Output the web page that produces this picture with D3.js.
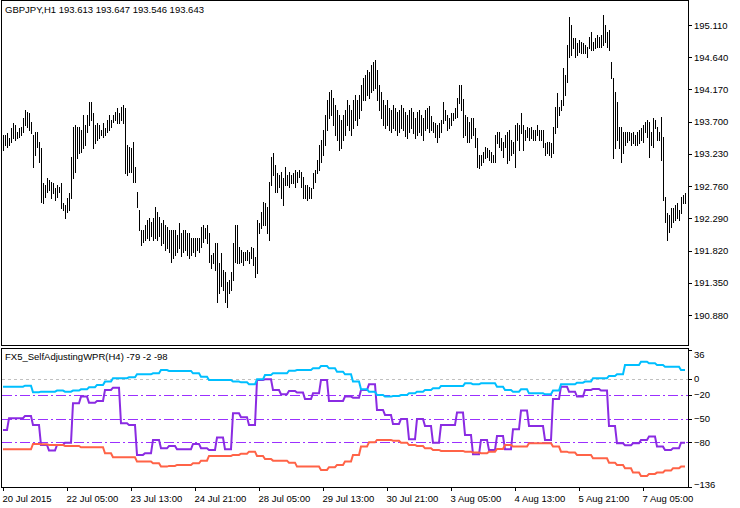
<!DOCTYPE html>
<html><head><meta charset="utf-8">
<script src="https://cdn.jsdelivr.net/npm/d3@7"></script>
<style>
html,body{margin:0;padding:0;background:#fff;}
svg{display:block;}
text{font-family:"Liberation Sans",Arial,sans-serif;font-size:9.5px;fill:#000;}
</style>
</head><body><svg id="c" width="740" height="508"></svg>
<script>
// ---- price bars (H1), high / low ----
const highs = [193.50,193.50,193.53,193.46,193.61,193.68,193.65,193.55,193.61,193.62,
193.75,193.87,193.84,193.83,193.69,193.50,193.55,193.55,193.40,193.31,
192.80,192.77,192.88,192.85,192.82,192.80,192.73,192.77,192.74,192.80,
192.51,192.48,192.58,192.66,193.18,193.62,193.65,193.62,193.62,193.58,
193.80,193.65,193.80,193.99,193.99,193.83,193.65,193.68,193.65,193.58,
193.68,193.61,193.72,193.80,193.72,193.80,193.84,193.90,193.83,193.91,
193.94,193.90,193.36,193.33,193.31,193.40,193.04,192.67,192.41,192.12,
192.12,192.19,192.26,192.29,192.23,192.29,192.45,192.38,192.31,192.22,
192.26,192.19,192.16,192.12,192.12,192.12,192.12,192.04,192.22,192.07,
192.12,192.12,192.07,192.07,192.01,192.00,192.00,192.01,192.00,192.16,
192.19,192.15,192.19,192.07,191.75,191.78,191.93,191.93,191.64,191.78,
191.53,191.50,191.36,191.39,191.50,191.93,192.19,192.19,191.87,191.83,
191.80,191.80,191.83,191.80,191.87,191.85,191.72,192.26,192.22,192.38,
192.53,192.51,192.45,192.82,193.18,193.24,193.07,192.95,192.92,192.96,
192.88,193.04,192.92,192.96,192.92,192.95,192.99,192.96,192.99,192.96,
192.89,192.77,192.77,192.74,192.73,192.95,192.99,193.14,193.36,193.43,
193.58,193.80,194.02,194.13,194.16,194.04,193.94,193.87,193.80,193.72,
193.80,193.87,194.02,193.94,193.87,194.02,194.09,194.02,194.09,194.23,
194.34,194.38,194.45,194.42,194.53,194.57,194.60,194.45,194.23,194.13,
194.02,193.94,194.02,193.90,193.87,193.94,193.90,193.84,193.87,193.94,
193.90,193.84,193.80,193.87,193.90,193.84,193.75,193.84,193.87,193.80,
193.75,193.87,193.90,193.93,193.78,193.69,193.68,193.65,193.68,193.72,
193.99,193.87,193.80,193.75,193.83,193.83,193.90,194.04,194.23,194.23,
194.03,193.80,193.77,193.69,193.75,193.75,193.61,193.46,193.21,193.21,
193.26,193.33,193.31,193.28,193.26,193.21,193.50,193.55,193.55,193.46,
193.40,193.50,193.55,193.58,193.43,193.40,193.65,193.68,193.65,193.83,
193.65,193.58,193.62,193.61,193.62,193.58,193.58,193.65,193.58,193.58,
193.58,193.39,193.40,193.40,193.39,193.62,193.91,194.12,193.91,194.02,
194.48,194.38,194.82,195.23,195.11,194.92,194.92,194.85,194.89,194.86,
194.85,194.82,194.79,194.93,195.01,194.86,194.92,194.96,194.93,194.96,
195.26,195.11,195.01,195.04,194.57,194.34,194.13,193.99,193.62,193.62,
193.55,193.55,193.55,193.55,193.53,193.55,193.50,193.55,193.58,193.61,
193.65,193.69,193.72,193.69,193.55,193.75,193.72,193.62,193.55,193.77,
193.47,192.60,192.37,192.34,192.44,192.44,192.48,192.51,192.41,192.60,
192.63,192.66];
const lows = [193.28,193.36,193.33,193.36,193.40,193.46,193.43,193.46,193.47,193.50,
193.55,193.65,193.62,193.58,193.53,193.04,193.21,193.33,193.11,192.53,
192.51,192.60,192.67,192.70,192.58,192.66,192.56,192.60,192.67,192.44,
192.41,192.29,192.38,192.41,192.58,192.88,192.96,193.17,193.24,193.26,
193.31,193.36,193.55,193.65,193.72,193.31,193.39,193.43,193.46,193.50,
193.47,193.50,193.55,193.58,193.62,193.69,193.72,193.68,193.68,193.72,
193.68,192.95,192.92,192.96,192.96,192.82,192.82,192.45,192.12,191.90,
191.94,191.97,192.00,191.97,192.03,191.97,192.00,191.97,192.03,191.90,
191.93,191.83,191.85,191.80,191.65,191.71,191.75,191.80,191.85,191.74,
191.80,191.83,191.75,191.71,191.75,191.80,191.74,191.83,191.80,191.87,
191.94,192.00,191.93,191.65,191.56,191.64,191.53,191.07,191.20,191.31,
191.24,191.07,190.99,191.20,191.24,191.39,191.65,191.64,191.64,191.65,
191.61,191.68,191.68,191.64,191.71,191.61,191.43,191.49,192.07,192.15,
192.19,192.19,192.07,191.97,192.77,192.92,192.67,192.67,192.74,192.58,
192.48,192.77,192.77,192.74,192.80,192.80,192.74,192.82,192.89,192.74,
192.58,192.58,192.56,192.58,192.58,192.73,192.82,192.95,192.99,193.11,
193.21,193.36,193.58,193.75,193.80,193.65,193.50,193.43,193.28,193.31,
193.43,193.50,193.65,193.58,193.50,193.61,193.72,193.65,193.75,193.87,
194.02,194.02,194.09,194.04,194.13,194.16,194.19,194.02,193.87,193.75,
193.65,193.61,193.65,193.58,193.55,193.61,193.58,193.50,193.55,193.61,
193.58,193.49,193.46,193.55,193.61,193.53,193.46,193.50,193.55,193.50,
193.43,193.58,193.61,193.55,193.58,193.55,193.47,193.40,193.47,193.55,
193.68,193.72,193.58,193.61,193.65,193.72,193.75,193.77,193.97,193.87,
193.47,193.50,193.40,193.40,193.46,193.50,193.33,193.04,193.02,193.07,
193.11,193.17,193.18,193.14,193.11,193.11,193.11,193.39,193.33,193.28,
193.18,193.33,193.10,193.14,193.21,193.24,193.04,193.43,193.28,193.53,
193.28,193.43,193.47,193.43,193.46,193.43,193.43,193.50,193.43,193.43,
193.33,193.21,193.24,193.21,193.18,193.24,193.53,193.62,193.80,193.87,
193.94,194.09,194.28,194.64,194.67,194.77,194.64,194.67,194.72,194.70,
194.70,194.70,194.64,194.77,194.75,194.75,194.77,194.79,194.79,194.79,
194.82,194.86,194.79,194.75,194.34,193.17,193.31,193.43,193.31,193.11,
193.24,193.36,193.40,193.43,193.36,193.39,193.36,193.36,193.39,193.43,
193.40,193.55,193.47,193.18,193.36,193.33,193.61,193.43,193.43,193.14,
192.56,192.23,191.97,192.09,192.16,192.23,192.26,192.29,192.26,192.37,
192.51,192.51];

// ---- indicator (H4 values, shown on H1) ----
const wprH4 = [-64.4,-49.7,-49.7,-46.8,-58.1,-83.2,-90.3,-83.2,-80.3,-30.9,
-22.5,-30.1,-28,-14.2,-11.3,-56,-58.1,-95.7,-93.7,-76.9,
-87.4,-84.5,-88.6,-88.6,-81.9,-87.4,-89.5,-74,-88.6,-43.5,
-48.5,-58.1,-1.6,-0.8,-14.2,-19.6,-15.4,-17.5,-25.5,-18.4,
-1.6,-28,-28,-22.5,-23.8,-14.2,-7.1,-39.3,-45.6,-56.8,
-50.6,-76.1,-50.6,-59.4,-80.3,-58.1,-58.1,-42.6,-70.6,-94.9,
-76.9,-89.5,-71.9,-88.6,-63.5,-40.1,-59.4,-59.4,-76.9,-25.5,
-10,-16.3,-22.5,-14.2,-12.9,-15,-59.4,-81.1,-83.6,-81.1,
-76.9,-72.7,-85.3,-89.5,-87.4,-80.3];
const upperH4 = [-10,-10,-10,-8.8,-17.1,-16.3,-16.3,-15,-16.3,-15,
-13.4,-10.8,-7.9,-3.7,0.5,0.5,1.7,5.5,5.5,6.7,
10.9,9.7,9.7,9.7,6.7,2.5,-1.6,-1.6,-1.6,-3.7,
-4.6,-7.1,-0.8,4.6,6.7,6.7,10.1,10.9,10.9,13,
15.9,13,8.8,5.5,-3.7,-13.4,-16.3,-20.5,-22.5,-21.7,
-20.5,-18.4,-16.3,-14.2,-12.1,-9.2,-9.2,-9.2,-5.8,-7.1,
-5.8,-5.8,-10,-14.2,-16.3,-13.4,-18.4,-18.4,-19.6,-15,
-7.1,-7.1,-5,-3.7,0.5,0.5,3.4,5.5,17.2,17.2,
21.4,19.3,17.2,15.1,15.1,10.9];
const lowerH4 = [-88.6,-88.6,-88.6,-88.6,-81.9,-82.4,-83.2,-83.2,-84.5,-84.5,
-86.1,-86.1,-86.1,-93.7,-98.7,-98.7,-98.7,-104.1,-104.1,-106.2,
-110.4,-109.5,-108.3,-108.3,-106.2,-102.9,-97,-97,-97,-95.7,
-94.1,-91.6,-97,-100.8,-102.9,-102.9,-105.4,-110.4,-110.4,-110.4,
-114.6,-111.2,-108.3,-104.1,-95.7,-85.3,-79.9,-76.9,-76.9,-77.8,
-80.3,-83.2,-84.5,-87.4,-89.5,-90.7,-90.7,-90.7,-91.6,-92.8,
-93.7,-91.6,-88.2,-83.2,-85.3,-85.3,-81.1,-81.1,-81.1,-85.3,
-91.6,-92.8,-95.7,-95.7,-99.9,-99.9,-105.4,-108.3,-112.5,-117.9,
-122.1,-119.6,-117.9,-115.4,-112.5,-110.4];

// ---- axis labels ----
const priceTicks = [195.110,194.640,194.170,193.700,193.230,192.760,192.290,191.820,191.350,190.880];
const indTicks = [36,0,-20,-50,-80,-136];
const levels = [-20,-50,-80];
const timeLabels = ["20 Jul 2015","22 Jul 05:00","23 Jul 13:00","24 Jul 21:00","28 Jul 05:00","29 Jul 13:00","30 Jul 21:00","3 Aug 05:00","4 Aug 13:00","5 Aug 21:00","7 Aug 05:00"];
const titleText = "GBPJPY,H1  193.613 193.647 193.546 193.643";
const indText = "FX5_SelfAdjustingWPR(H4) -79 -2 -98";

const svg = d3.select('#c');
const N = highs.length;
const L = 1, R = 688, pTop = 0, pBot = 345, iTop = 348, iBot = 487;

const x = d3.scaleLinear().domain([0, N - 1]).range([3, 685]);
const yP = d3.scaleLinear().domain([190.88, 195.11]).range([315, 25]);
const yI = d3.scaleLinear().domain([-136, 36]).range([487, 350]);

// frames
svg.append('rect').attr('x', L + 0.5).attr('y', pTop + 0.5).attr('width', R - L).attr('height', pBot - pTop)
  .attr('fill', 'none').attr('stroke', '#000').attr('shape-rendering', 'crispEdges');
svg.append('rect').attr('x', L + 0.5).attr('y', iTop + 0.5).attr('width', R - L).attr('height', iBot - iTop)
  .attr('fill', 'none').attr('stroke', '#000').attr('shape-rendering', 'crispEdges');

// price bars
svg.append('g').selectAll('line').data(highs).join('line')
  .attr('x1', (d, i) => Math.round(x(i)) + 0.5)
  .attr('x2', (d, i) => Math.round(x(i)) + 0.5)
  .attr('y1', d => Math.round(yP(d)))
  .attr('y2', (d, i) => Math.round(yP(lows[i])) + 1)
  .attr('stroke', '#000').attr('stroke-width', 1).attr('shape-rendering', 'crispEdges');

// price axis
const pAxis = svg.append('g').attr('transform', `translate(${R},0)`)
  .call(d3.axisRight(yP).tickValues(priceTicks).tickSize(4).tickPadding(2).tickFormat(d3.format('.3f')));
pAxis.select('.domain').remove();

// indicator levels
svg.append('line').attr('x1', L + 1).attr('x2', R).attr('y1', Math.round(yI(0)) + 0.5).attr('y2', Math.round(yI(0)) + 0.5)
  .attr('stroke', '#c0c0c0').attr('stroke-dasharray', '3,3').attr('shape-rendering', 'crispEdges');
svg.append('g').selectAll('line').data(levels).join('line')
  .attr('x1', L + 1).attr('x2', R)
  .attr('y1', d => Math.round(yI(d)) + 0.5).attr('y2', d => Math.round(yI(d)) + 0.5)
  .attr('stroke', '#9b30ff').attr('stroke-dasharray', '10,3,2,3').attr('shape-rendering', 'crispEdges');

// indicator lines (H4 value repeated on each H1 bar)
const h4 = i => Math.floor((i + 1) / 4);
const idx = d3.range(N);
const mk = arr => d3.line().x(i => x(i)).y(i => yI(arr[h4(i)]));
[[wprH4, '#8a2be2'], [upperH4, '#00bfff'], [lowerH4, '#ff6347']].forEach(([arr, col]) => {
  svg.append('path').datum(idx).attr('d', mk(arr)).attr('fill', 'none')
    .attr('stroke', col).attr('stroke-width', 2).attr('stroke-linejoin', 'miter');
});

// indicator axis
const iAxis = svg.append('g').attr('transform', `translate(${R},0)`)
  .call(d3.axisRight(yI).tickValues(indTicks).tickSize(4).tickPadding(2).tickFormat(d3.format('d')));
iAxis.select('.domain').remove();
iAxis.selectAll('.tick').filter(d => d === 36).select('text').attr('dy', '0.75em');
iAxis.selectAll('.tick').filter(d => d === -136).select('text').attr('dy', '0em');

// time axis
const tIdx = timeLabels.map((d, i) => i * 32);
const tAxis = svg.append('g').attr('transform', `translate(0,${iBot})`)
  .call(d3.axisBottom(x).tickValues(tIdx).tickSize(4).tickPadding(2).tickFormat((d, i) => timeLabels[i]));
tAxis.select('.domain').remove();
tAxis.selectAll('text').attr('text-anchor', 'start').attr('x', -1).attr('dy', '0.9em');

[pAxis, iAxis, tAxis].forEach(g => {
  g.attr('font-family', null).attr('font-size', null);
  g.selectAll('line').attr('stroke', '#000').attr('shape-rendering', 'crispEdges');
  g.selectAll('text').attr('fill', '#000');
});

// titles
svg.append('text').attr('x', 5).attr('y', 13).text(titleText);
svg.append('text').attr('x', 5).attr('y', 360).text(indText);
</script></body></html>
